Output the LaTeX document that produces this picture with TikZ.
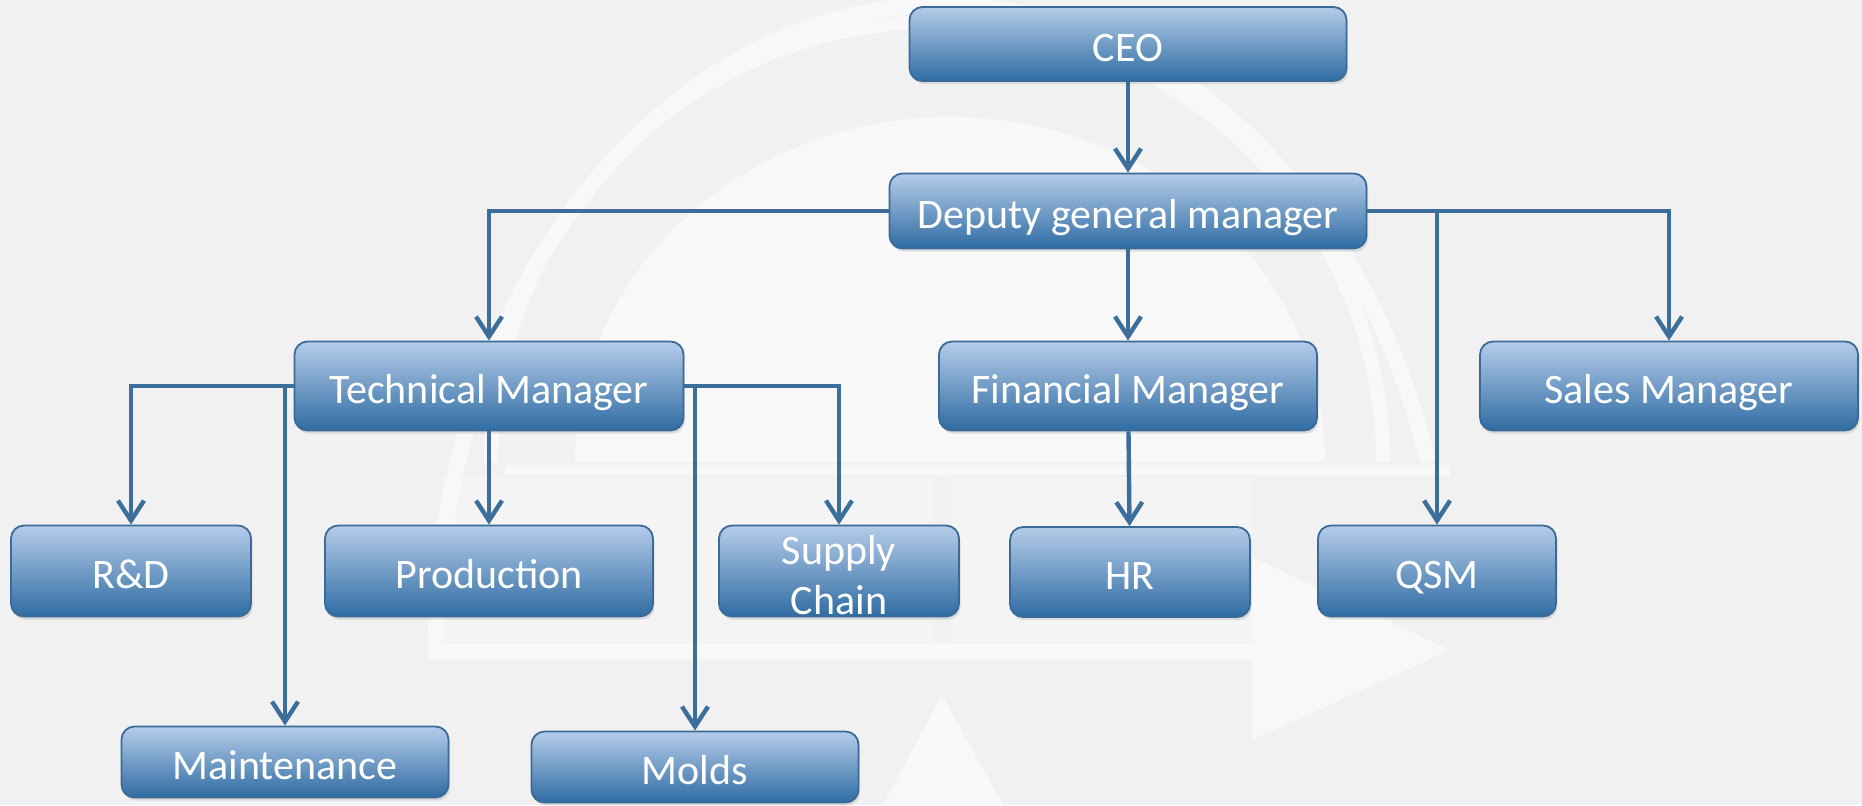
\documentclass[tikz,border=0pt]{standalone}
\usepackage{fontspec}
\setmainfont{Carlito}
\usetikzlibrary{arrows.meta,shadows}
\definecolor{bg}{HTML}{F1F1F1}
\definecolor{wm}{HTML}{F8F8F8}
\definecolor{wmsoft}{HTML}{F4F4F4}
\definecolor{linec}{HTML}{3B6E9B}
\definecolor{boxtop}{HTML}{B5CCE9}
\definecolor{boxbot}{HTML}{2F6CA3}
\definecolor{boxdraw}{HTML}{3A6A97}
\begin{document}
\begin{tikzpicture}[x=0.5pt,y=-0.5pt,
  orgbox/.style={draw=boxdraw, line width=0.9pt, rounded corners=6.5pt,
    top color=boxtop, bottom color=boxbot, text=white,
    font=\fontsize{21}{24}\selectfont, inner sep=0pt,
    drop shadow={opacity=0.22, shadow xshift=0.8pt, shadow yshift=-1.6pt}},
  oneline/.style={text height=20pt, text depth=3pt},
  conn/.style={draw=linec, line width=2.2pt,
    -{Straight Barb[length=10pt,width=13pt]}},
]
% background and watermark
\useasboundingbox (0,0) rectangle (1862,805);
\fill[bg] (0,0) rectangle (1862,805);
\fill[wmsoft] (442,477) rectangle (933,642);
\fill[wmsoft] (951,477) rectangle (1252,642);
\fill[wm] (575,462) arc[start angle=180, end angle=360, x radius=375, y radius=345] -- cycle;
\draw[wm, line width=7pt] (491,462) arc[start angle=180, end angle=360, x radius=446, y radius=440];
\draw[wm, line width=8pt] (436,650) arc[start angle=180, end angle=343, x radius=507, y radius=645];
\draw[wm, line width=5pt] (505,470) -- (1450,470);
\fill[wm] (428,643) rectangle (1252,660);
\fill[wm] (1252,557) -- (1450,650) -- (1252,740) -- cycle;
\fill[wm] (942,695) -- (1003,805) -- (883,805) -- cycle;

% nodes
\node[orgbox, oneline, minimum width=218.5pt, minimum height=37pt] (ceo) at (1128,44) {CEO};
\node[orgbox, oneline, minimum width=238.5pt, minimum height=37.5pt] (dep) at (1128,211) {Deputy general manager};
\node[orgbox, oneline, minimum width=194.5pt, minimum height=44.5pt] (tm) at (489,386) {Technical Manager};
\node[orgbox, oneline, minimum width=189pt, minimum height=44.5pt] (fin) at (1128,386) {Financial Manager};
\node[orgbox, oneline, minimum width=189pt, minimum height=44.5pt] (sales) at (1669,386) {Sales Manager};
\node[orgbox, oneline, minimum width=120pt, minimum height=45.5pt] (rd) at (131,571) {R\&D};
\node[orgbox, oneline, minimum width=164pt, minimum height=45.5pt] (prod) at (489,571) {Production};
\node[orgbox, minimum width=120pt, minimum height=45.5pt] (sc) at (839,571)
  {\smash{\raisebox{-9.5pt}{\begin{tabular}{@{}c@{}}Supply\\[1pt]Chain\end{tabular}}}};
\node[orgbox, oneline, minimum width=120pt, minimum height=45pt] (hr) at (1130,572) {HR};
\node[orgbox, oneline, minimum width=119pt, minimum height=45.5pt] (qsm) at (1437,571) {QSM};
\node[orgbox, oneline, minimum width=163.5pt, minimum height=35.5pt] (maint) at (285,762) {Maintenance};
\node[orgbox, oneline, minimum width=163.5pt, minimum height=35.5pt] (molds) at (695,767) {Molds};

% connectors
\draw[conn] (ceo) -- (dep);
\draw[conn] (dep.west) -| (tm.north);
\draw[conn] (dep) -- (fin);
\draw[conn] (dep.east) -| (sales.north);
\draw[conn] (dep.east) -| (qsm.north);
\draw[conn] (fin) -- (hr);
\draw[conn] (tm.west) -| (rd.north);
\draw[conn] (tm.west) -| (maint.north);
\draw[conn] (tm) -- (prod);
\draw[conn] (tm.east) -| (sc.north);
\draw[conn] (tm.east) -| (molds.north);
\end{tikzpicture}
\end{document}
